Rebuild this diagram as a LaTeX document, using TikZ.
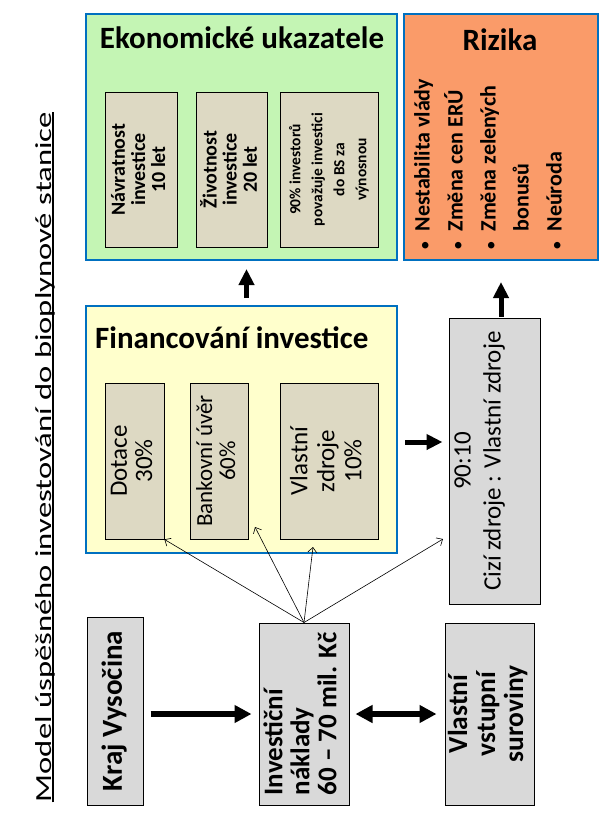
\documentclass[tikz,border=0pt]{standalone}
\usepackage{fontspec}
\setmainfont{Carlito}
\usetikzlibrary{arrows.meta}
\usetikzlibrary{positioning}
\definecolor{frame-blue}{RGB}{0, 112, 192}
\definecolor{eko-green}{RGB}{196, 245, 180}
\definecolor{risk-orange}{RGB}{250, 155, 105}
\definecolor{fin-yellow}{RGB}{255, 255, 204}
\definecolor{inner-tan}{RGB}{221, 217, 195}
\definecolor{box-gray}{RGB}{217, 217, 217}
\newcommand{\uptext}[2][c]{\rotatebox{90}{\begin{tabular}{@{}#1@{}}#2\end{tabular}}}
\newcommand{\riskdot}{\scalebox{0.7}{\textbullet}}
\tikzset{
  panel/.style={draw=frame-blue, line width=2pt, inner sep=0pt},
  innerbox/.style={draw=black, fill=inner-tan, line width=0.8pt, inner sep=0pt},
  graybox/.style={draw=black, fill=box-gray, line width=1pt, inner sep=0pt},
  heading/.style={font=\fontsize{31}{36}\selectfont\bfseries},
  bigarrow/.style={line width=5pt, -{Triangle[length=16pt,width=15pt]}},
  widearrow/.style={line width=6pt, -{Triangle[length=17pt,width=17pt]}},
  widedouble/.style={line width=6pt, {Triangle[length=17pt,width=17pt]}-{Triangle[length=17pt,width=17pt]}},
  thinarrow/.style={line width=0.6pt, -{Straight Barb[length=5pt,width=9pt]}}
}

\begin{document}
\begin{tikzpicture}[x=1pt,y=-1pt]
\useasboundingbox (0,0) rectangle (613,820);

% nadpis
\node[rotate=90, xscale=1.42, anchor=base, inner sep=0pt, font=\fontsize{23}{28}\selectfont] (nazev) at (51,457) {Model úspěšného investování do bioplynové stanice};
\draw[line width=1.5pt] ([xshift=2pt]nazev.base west) -- ([xshift=2pt]nazev.base east);

% ekonomicke ukazatele
\node[panel, fill=eko-green, minimum width=311pt, minimum height=246pt] (eko) at (241.5,137) {};
\node[heading] (ekotitle) at (242,38) {Ekonomické ukazatele};
\node[innerbox, minimum width=72pt, minimum height=155pt, font=\fontsize{20}{20}\selectfont\bfseries] (navratnost) at (141,169.5) {\uptext{Návratnost\\investice\\10 let}};
\node[innerbox, minimum width=71pt, minimum height=155pt, font=\fontsize{20}{20}\selectfont\bfseries] (zivotnost) at (231.5,169.5) {\uptext{Životnost\\investice\\20 let}};
\node[innerbox, minimum width=98pt, minimum height=155pt, font=\fontsize{15.5}{22}\selectfont\bfseries] (investori) at (329,169.5) {\uptext{90\% investorů\\považuje investici\\do BS za\\výnosnou}};

% rizika
\node[panel, fill=risk-orange, minimum width=194pt, minimum height=246pt] (rizika) at (501,137) {};
\node[heading] (rizikatitle) at (500,40) {Rizika};
\node[inner sep=0pt, font=\fontsize{22}{33}\selectfont\bfseries] (rizikalist) at (489,164) {\uptext[c@{\hspace{10pt}}l]{\riskdot & Nestabilita vlády\\ \riskdot & Změna cen ERÚ\\ \riskdot & Změna zelených\\ & bonusů\\ \riskdot & Neúroda}};

% financovani
\node[panel, fill=fin-yellow, minimum width=311pt, minimum height=247pt] (fin) at (241.5,429.5) {};
\node[heading, anchor=west, inner sep=0pt] (fintitle) at (95,338) {Financování investice};
\node[innerbox, minimum width=59pt, minimum height=156pt, font=\fontsize{25}{25}\selectfont] (dotace) at (134.5,461) {\uptext{Dotace\\30\%}};
\node[innerbox, minimum width=58pt, minimum height=156pt, font=\fontsize{23}{23}\selectfont] (uver) at (219,461) {\uptext{Bankovní úvěr\\60\%}};
\node[innerbox, minimum width=98pt, minimum height=156pt, font=\fontsize{25}{27}\selectfont] (zdroje) at (329,461) {\uptext{Vlastní\\zdroje\\10\%}};

% pomer zdroju
\node[graybox, minimum width=91pt, minimum height=286pt, font=\fontsize{25}{30}\selectfont] (pomer) at (494.5,461) {\uptext{90:10\\Cizí zdroje : Vlastní zdroje\\ \mbox{}}};

% spodni rada
\node[graybox, minimum width=56pt, minimum height=188pt, font=\fontsize{29}{34}\selectfont\bfseries] (kraj) at (115,711) {\uptext{Kraj Vysočina}};
\node[graybox, minimum width=90pt, minimum height=182pt, font=\fontsize{27}{27}\selectfont\bfseries] (naklady) at (304,714) {\uptext[l]{Investiční\\náklady\\60 -- 70 mil. Kč}};
\node[graybox, minimum width=89pt, minimum height=182pt, font=\fontsize{27.5}{28}\selectfont\bfseries] (suroviny) at (489.5,714) {\uptext{Vlastní\\vstupní\\suroviny}};

% sipky
\draw[bigarrow, shorten <=7pt, shorten >=8pt] ([xshift=5pt]fin.north) -- ([xshift=5pt]eko.south);
\draw[bigarrow, shorten <=1pt, shorten >=21pt] (rizika.south |- pomer.north) -- (rizika.south);
\draw[bigarrow, shorten <=7pt, shorten >=6pt] ([yshift=-12.5pt]fin.east) -- ([yshift=-12.5pt]fin.east -| pomer.west);
\draw[widearrow, shorten <=7pt, shorten >=7pt] (kraj.east |- naklady.west) -- (naklady.west);
\draw[widedouble, shorten <=6pt, shorten >=8pt] (naklady.east) -- (suroviny.west);

\coordinate (tipuver) at (255,527);
\coordinate (tipzdroje) at (313,547);
\coordinate (tippomer) at (443,539);
\draw[thinarrow] (naklady.north) -- (dotace.south east);
\draw[thinarrow] (naklady.north) -- (tipuver);
\draw[thinarrow] (naklady.north) -- (tipzdroje);
\draw[thinarrow] (naklady.north) -- (tippomer);
\end{tikzpicture}
\end{document}
